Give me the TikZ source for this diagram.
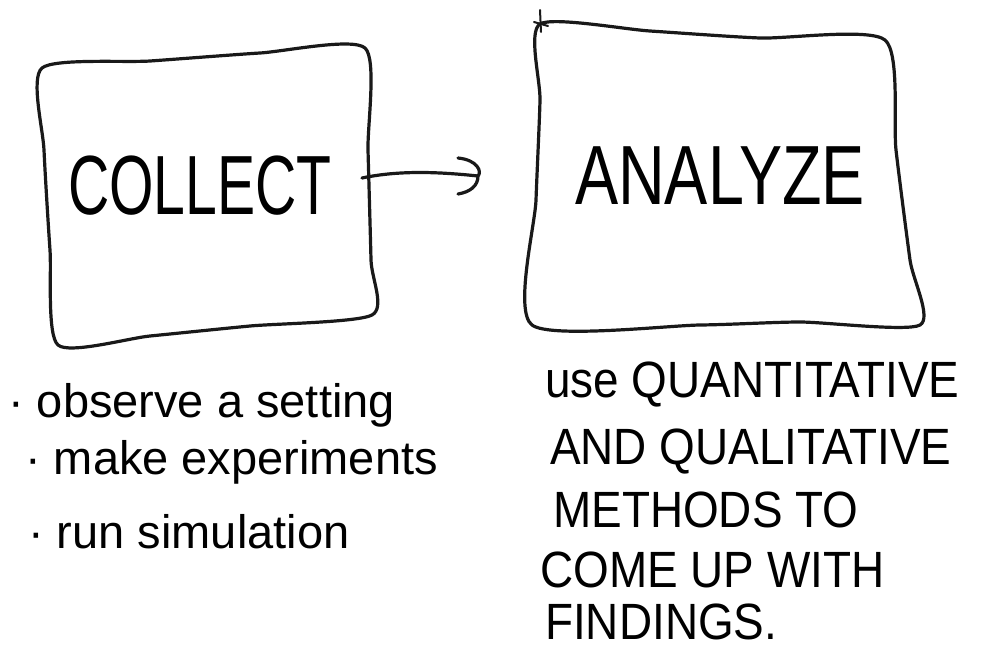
\documentclass[tikz,border=0pt]{standalone}
\usepackage{fontspec}
\setmainfont{Liberation Sans}
\begin{document}
\begin{tikzpicture}[x=1pt,y=-1pt,
  ink/.style={line width=3.2pt, line cap=round, line join=round, draw=black!90},
  bigword/.style={font=\fontsize{84}{90}\selectfont, transform shape, inner sep=0},
  bullet/.style={font=\fontsize{47}{52}\selectfont, anchor=west, inner sep=0},
  rline/.style={font=\fontsize{51}{56}\selectfont, anchor=west, inner sep=0, xscale=0.9, transform shape}]
\useasboundingbox (0,0) rectangle (987,656);
% left box
\draw[ink] plot[smooth cycle, tension=0.4] coordinates {(42,68) (150,61) (260,53) (365,48) (368,150) (371,260) (372,315) (250,326) (150,336) (58,345) (50,250) (44,150)};
% right box
\draw[ink] plot[smooth cycle, tension=0.4] coordinates {(540,24) (650,31) (760,38) (885,40) (896,150) (910,260) (920,325) (800,322) (700,325) (532,325) (536,200) (540,100)};
\draw[ink, line width=2pt] (540,10) -- (541,32);
\draw[ink, line width=2pt] (534,22) -- (548,26);
% texts
\node[bigword, xscale=0.68] (collect) at (200,186) {COLLECT};
\node[bigword, xscale=0.77] (analyze) at (720,176) {ANALYZE};
% arrow
\coordinate (a0) at (362,178);
\coordinate (a1) at (478,176);
\draw[ink] (a0) .. controls (400,170) and (440,172) .. (a1);
\draw[ink] (458,158) .. controls (478,160) and (482,172) .. (a1) .. controls (478,186) and (470,192) .. (458,194);
% bullets
\node[bullet] (b1) at (8,405) {· observe a setting};
\node[bullet] (b2) at (25,462) {· make experiments};
\node[bullet] (b3) at (28,532) {· run simulation};
% right text
\node[rline] (r1) at (545,385) {use QUANTITATIVE};
\node[rline] (r2) at (550,452) {AND QUALITATIVE};
\node[rline] (r3) at (553,510) {METHODS TO};
\node[rline] (r4) at (540,570) {COME UP WITH};
\node[rline] (r5) at (545,622) {FINDINGS.};
\end{tikzpicture}
\end{document}
